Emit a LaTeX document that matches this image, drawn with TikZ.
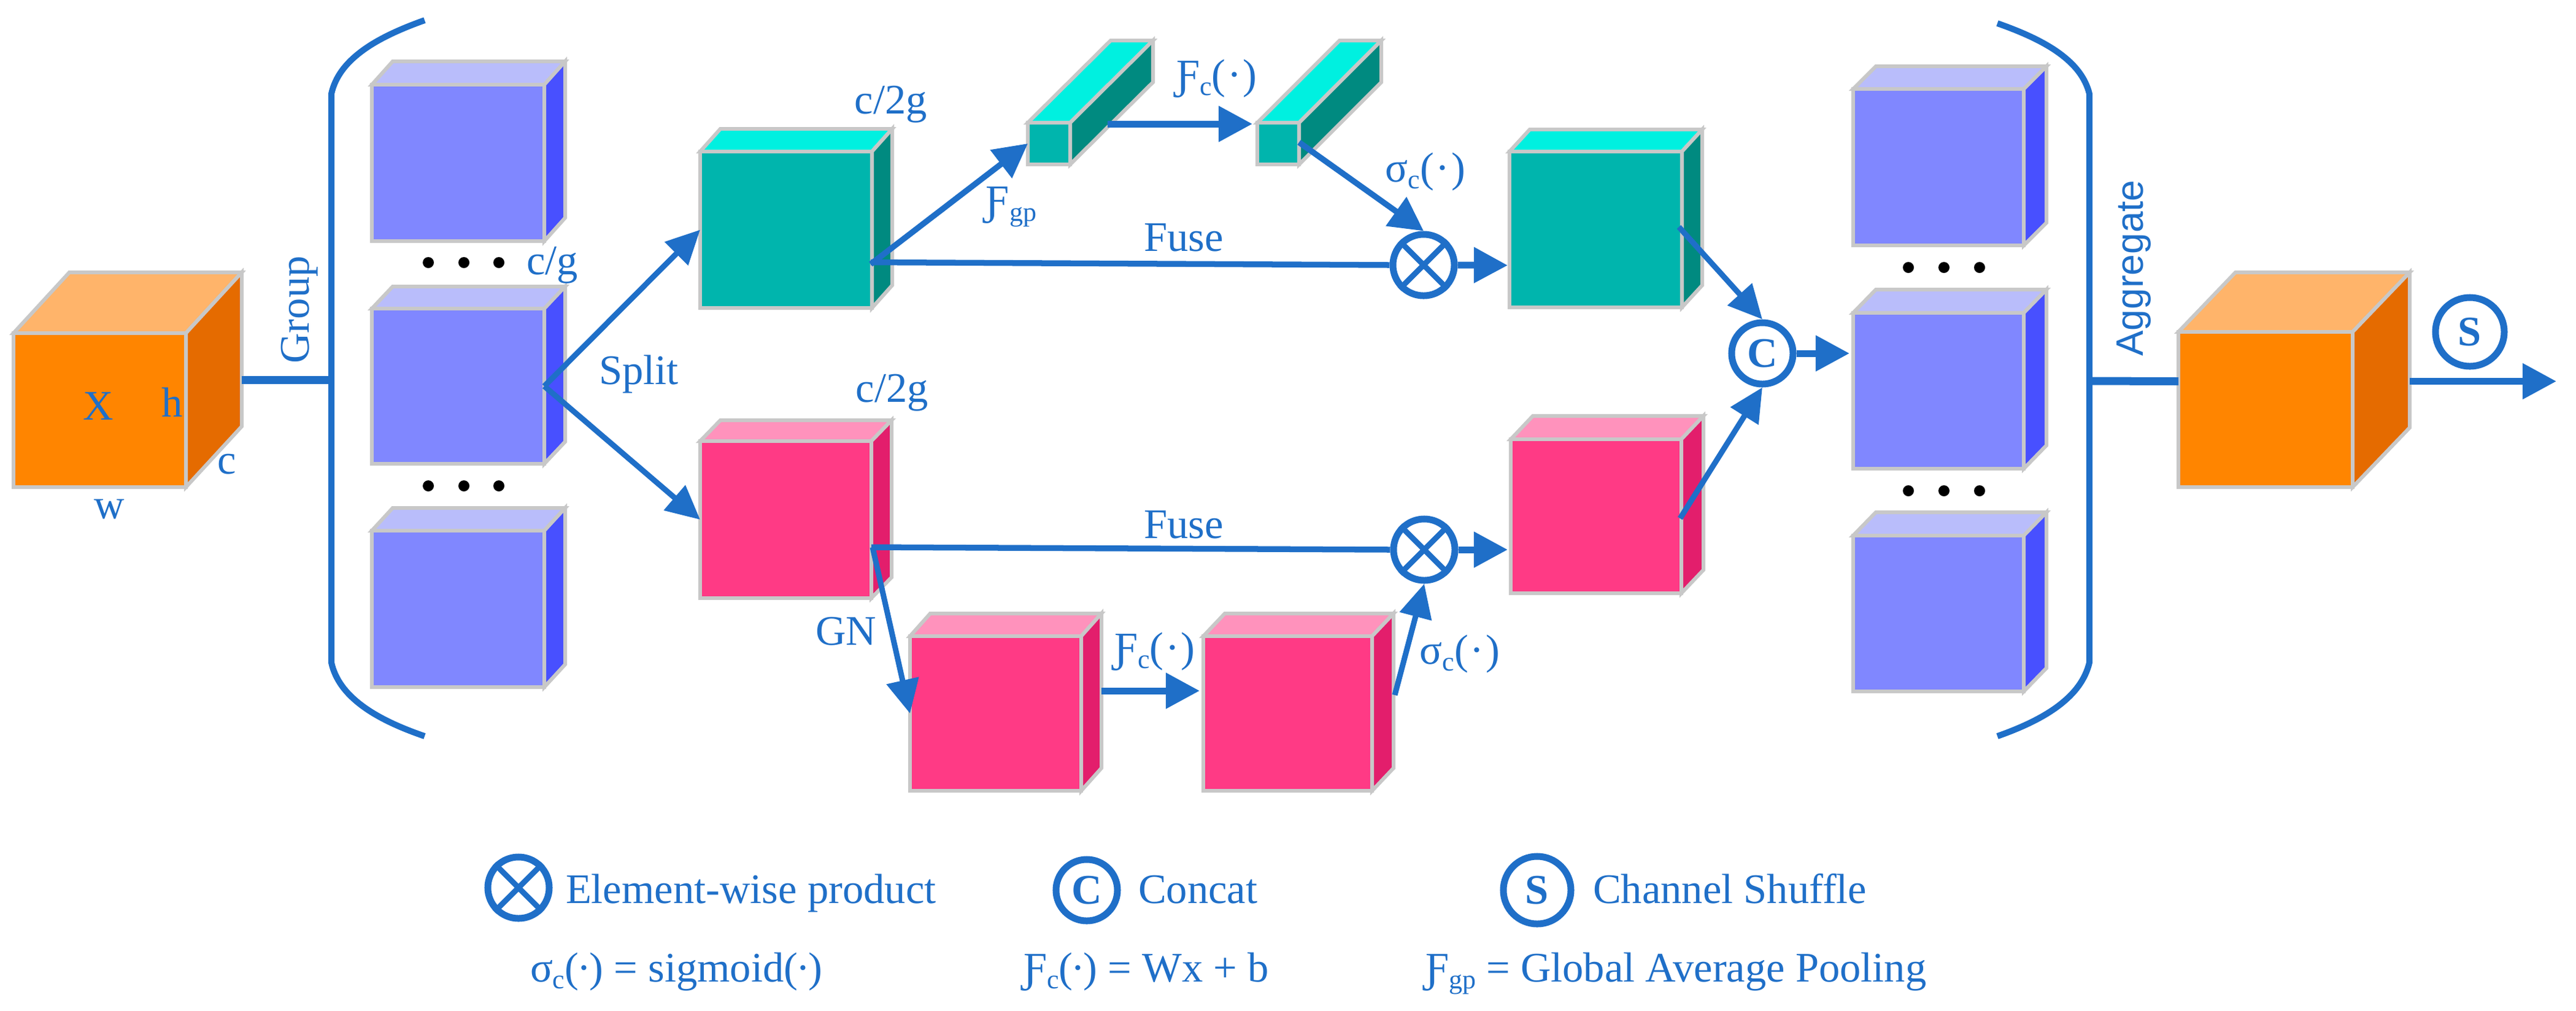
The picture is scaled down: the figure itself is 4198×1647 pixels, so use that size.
\documentclass[tikz,border=0pt]{standalone}
\usepackage{fontspec}
\setmainfont{Liberation Serif}
\newfontfamily\aggfont{Liberation Sans}
\usetikzlibrary{arrows.meta,calc}
\definecolor{ink}{HTML}{1F6FC8}
\definecolor{edge}{HTML}{C8C8C8}
\definecolor{oF}{HTML}{FF8500}\definecolor{oT}{HTML}{FFB46A}\definecolor{oS}{HTML}{E56B00}
\definecolor{bF}{HTML}{8087FF}\definecolor{bT}{HTML}{B9BDFB}\definecolor{bS}{HTML}{4850FF}
\definecolor{tF}{HTML}{00B5AD}\definecolor{tT}{HTML}{00F0E0}\definecolor{tS}{HTML}{008A80}
\definecolor{pF}{HTML}{FF3A85}\definecolor{pT}{HTML}{FF92BC}\definecolor{pS}{HTML}{E31E6C}
% name, x0, y0, x1, y1, back right x, back top y, colour prefix
\newcommand{\boxcube}[8]{%
  \pgfmathsetmacro{\dxv}{#6-#4}\pgfmathsetmacro{\dyv}{#3-#7}%
  \fill[#8T,cubeedge] (#2,#3) -- ({#2+\dxv},#7) -- (#6,#7) -- (#4,#3) -- cycle;
  \fill[#8S,cubeedge] (#4,#3) -- (#6,#7) -- (#6,{#5-\dyv}) -- (#4,#5) -- cycle;
  \node[cubeface,fill=#8F,minimum width={(#4-#2)*0.01cm},minimum height={(#5-#3)*0.01cm}] (#1) at ({(#2+#4)/2},{(#3+#5)/2}) {};
}
\newcommand{\subc}[1]{\raisebox{-0.35ex}{\fontsize{12.5}{13}\selectfont #1}}
\newcommand{\dotc}{(\kern0.04em·\kern0.04em)}
\newcommand{\dott}{(\kern-0.04em·\kern-0.04em)}
\newcommand{\FF}{Ƒ}
\tikzset{
  cubeedge/.style={draw=edge,line width=0.06cm,line join=miter},
  cubeface/.style={draw=edge,line width=0.06cm,inner sep=0pt,outer sep=0pt},
  lab/.style={text=ink,font=\fontsize{19.5}{22}\selectfont,inner sep=0pt,outer sep=0pt},
  leg/.style={lab,anchor=base west},
  con/.style={draw=ink,line width=0.11cm,-{Triangle[length=0.55cm,width=0.56cm]}},
  thin con/.style={draw=ink,line width=0.09cm,-{Triangle[length=0.55cm,width=0.52cm]}},
  plain/.style={draw=ink,line width=0.13cm},
  brk/.style={draw=ink,line width=0.1cm},
  op/.style={circle,draw=ink,fill=white,line width=0.11cm,minimum size=1.0cm,inner sep=0pt,text=ink,font=\fontsize{19.5}{22}\selectfont\bfseries},
  dotn/.style={circle,fill=black,minimum size=0.18cm,inner sep=0pt},
}
\begin{document}
\begin{tikzpicture}[x=0.01cm,y=-0.01cm]
\useasboundingbox (0,0) rectangle (4198,1647);
% cubes
\boxcube{oL}{22}{543}{303}{794}{394}{444}{o}
\boxcube{bL1}{606}{138}{887}{393}{921}{100}{b}
\boxcube{bL2}{606}{503}{887}{756}{921}{467}{b}
\boxcube{bL3}{606}{865}{887}{1120}{921}{828}{b}
\boxcube{t1}{1141}{247}{1421}{502}{1454}{210}{t}
\boxcube{s1}{1675}{200}{1744}{268}{1879}{66}{t}
\boxcube{s2}{2049}{200}{2117}{268}{2251}{66}{t}
\boxcube{t2}{2460}{247}{2741}{501}{2774}{211}{t}
\boxcube{p1}{1141}{719}{1420}{975}{1453}{685}{p}
\boxcube{p2}{1483}{1037}{1762}{1289}{1795}{1000}{p}
\boxcube{p3}{1961}{1037}{2236}{1289}{2271}{1000}{p}
\boxcube{p4}{2462}{716}{2740}{967}{2776}{678}{p}
\boxcube{bR1}{3020}{145}{3298}{400}{3335}{108}{b}
\boxcube{bR2}{3020}{510}{3298}{764}{3335}{472}{b}
\boxcube{bR3}{3020}{873}{3298}{1127}{3335}{835}{b}
\boxcube{oR}{3550}{541}{3834}{794}{3927}{444}{o}
% brackets
\draw[brk] (692,33) .. controls (610,62) and (552,98) .. (540,153) -- (540,1080) .. controls (552,1135) and (610,1172) .. (692,1200);
\draw[brk] (3255,38) .. controls (3335,66) and (3392,100) .. (3405,153) -- (3405,1080) .. controls (3392,1135) and (3335,1172) .. (3255,1200);
\coordinate (brL) at (540,619);
\coordinate (brR) at (3405,621);
\coordinate (out) at (4166,621.5);
% dots
\foreach \n/\x/\y in {a/698/428,b/756/428,c/813/428,d/698/792,e/756/792,f/813/792,g/3110/436,h/3168/436,i/3226/436,j/3110/800,k/3168/800,l/3226/800}
  \node[dotn] (dot\n) at (\x,\y) {};
% operators
\node[op] (m1) at (2320,432) {};
\node[op] (m2) at (2321,896) {};
\node[op] (cc) at (2872,576) {C};
\node[op,minimum size=1.12cm] (ss) at (4025,541) {S};
\foreach \m in {m1,m2}{\draw[ink,line width=0.09cm] (\m.45) -- (\m.225) (\m.135) -- (\m.315);}
% connectors
\draw[plain] ($(oL.east)+(91,-49.5)$) -- (brL);
\draw[thin con] (bL2.east) -- (t1.west);
\draw[thin con] (bL2.east) -- (p1.west);
\draw[con,line width=0.095cm] ($(t1.east)+(-2,56)$) -- (s1.west);
\draw[con] ($(s1.north east)+(61,2)$) -- ($(s2.north west)+(-8,2)$);
\draw[con,line width=0.095cm] ($(s2.east)+(0,-2)$) -- (m1.north);
\draw[con,line width=0.095cm,-] ($(t1.east)+(-2,53)$) -- (m1.west);
\draw[con] (m1.east) -- ($(t2.west)+(-3,58.5)$);
\draw[con,line width=0.095cm,-] ($(p1.east)+(0,45)$) -- (m2.west);
\draw[thin con] ($(p1.east)+(2,45)$) -- (p2.west);
\draw[con] ($(p2.east)+(33,-37)$) -- ($(p3.west)+(-6,-37)$);
\draw[thin con] ($(p3.east)+(37,-30)$) -- (m2.south);
\draw[con] (m2.east) -- ($(p4.west)+(-5,54.5)$);
\draw[thin con] ($(t2.east)+(-5,-4)$) -- (cc.north);
\draw[thin con] ($(p4.east)+(-2,3.5)$) -- (cc.south);
\draw[con] (cc.east) -- ($(bR2.west)+(-6,-61)$);
\draw[plain] (brR) -- ($(oR.west)+(0,-46)$);
\draw[con] ($(oR.east)+(93,-46)$) -- (out);
% labels
\node[lab] (lX) at (160,662) {X};
\node[lab] (lh) at (281,656) {h};
\node[lab] (lw) at (178,830) {w};
\node[lab] (lc) at (370,757) {c};
\node[lab,rotate=90] (lgroup) at (488,505) {Group};
\node[lab] (lcg) at (900,432) {c/g};
\node[lab] (lsplit) at (1041,610) {Split};
\node[lab] (lc2a) at (1452,170) {c/2g};
\node[lab] (lc2b) at (1454,640) {c/2g};
\node[lab] (lfgp) at (1648,337) {\FF\subc{gp}};
\node[lab] (lfca) at (1983,128) {\FF\subc{c}\dotc};
\node[lab] (lsa) at (2323,280) {σ\subc{c}\dotc};
\node[lab] (lfu1) at (1929,387) {Fuse};
\node[lab] (lfu2) at (1929,855) {Fuse};
\node[lab] (lgn) at (1379,1029) {GN};
\node[lab] (lfcb) at (1882,1062) {\FF\subc{c}\dotc};
\node[lab] (lsb) at (2379,1066) {σ\subc{c}\dotc};
\node[lab,rotate=90,font=\aggfont\fontsize{17.7}{20}\selectfont] (lagg) at (3478,437) {Aggregate};
% legend
\node[op] (kx) at (845,1447) {};
\draw[ink,line width=0.09cm] (kx.45) -- (kx.225) (kx.135) -- (kx.315);
\node[leg] (kxt) at (922,1472) {Element-wise product};
\node[op] (kc) at (1771,1451) {C};
\node[leg] (kct) at (1855,1472) {Concat};
\node[op,minimum size=1.1cm] (ks) at (2505,1451) {S};
\node[leg] (kst) at (2596,1472) {Channel Shuffle};
\node[leg] (fa) at (864,1600) {σ\subc{c}\dott\ = sigmoid\dott};
\node[leg] (fb) at (1668,1600) {\FF\subc{c}\dott\ = Wx + b};
\node[leg] (fc) at (2323,1600) {\FF\subc{gp} = Global Average Pooling};
\end{tikzpicture}
\end{document}
